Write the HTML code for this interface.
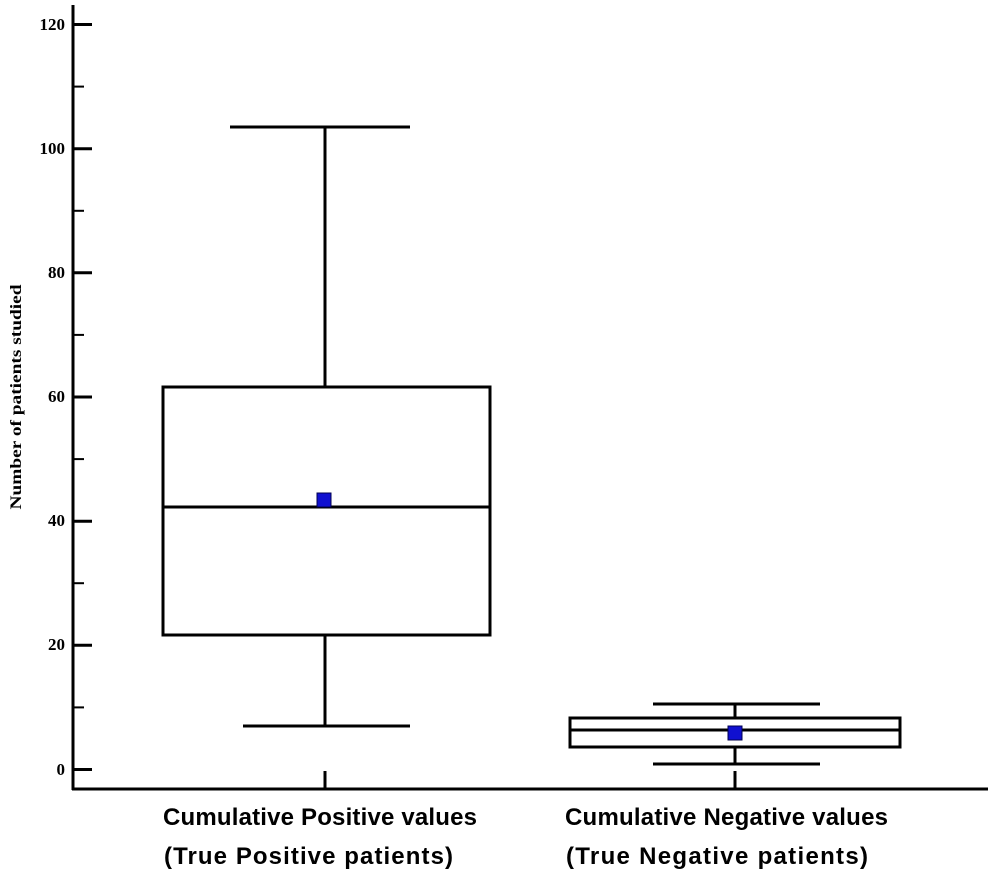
<!DOCTYPE html>
<html><head><style>body{margin:0;background:#fff}</style></head><body>
<svg width="992" height="872" xmlns="http://www.w3.org/2000/svg">
<g stroke="#000" fill="none" stroke-width="3">
<line x1="73" y1="5" x2="73" y2="790"/>
<line x1="72" y1="789" x2="988" y2="789"/>
<g stroke-width="3">
<line x1="73" y1="24.5" x2="92" y2="24.5"/>
<line x1="73" y1="148.7" x2="92" y2="148.7"/>
<line x1="73" y1="272.8" x2="92" y2="272.8"/>
<line x1="73" y1="397" x2="92" y2="397"/>
<line x1="73" y1="521.2" x2="92" y2="521.2"/>
<line x1="73" y1="645.3" x2="92" y2="645.3"/>
<line x1="73" y1="769.5" x2="92" y2="769.5"/>
</g>
<g stroke-width="2">
<line x1="73" y1="86.6" x2="84" y2="86.6"/>
<line x1="73" y1="210.8" x2="84" y2="210.8"/>
<line x1="73" y1="334.9" x2="84" y2="334.9"/>
<line x1="73" y1="459.1" x2="84" y2="459.1"/>
<line x1="73" y1="583.2" x2="84" y2="583.2"/>
<line x1="73" y1="707.4" x2="84" y2="707.4"/>
</g>
<line x1="325" y1="771" x2="325" y2="789"/>
<line x1="735" y1="771" x2="735" y2="789"/>
<rect x="163" y="387" width="327" height="248"/>
<line x1="163" y1="507" x2="490" y2="507"/>
<line x1="325" y1="127" x2="325" y2="387"/>
<line x1="230" y1="127" x2="410" y2="127"/>
<line x1="325" y1="635" x2="325" y2="726"/>
<line x1="243" y1="726" x2="410" y2="726"/>
<rect x="570" y="718" width="330" height="29"/>
<line x1="570" y1="730" x2="900" y2="730"/>
<line x1="735" y1="704" x2="735" y2="718"/>
<line x1="653" y1="704" x2="820" y2="704"/>
<line x1="735" y1="747" x2="735" y2="764"/>
<line x1="653" y1="764" x2="820" y2="764"/>
</g>
<rect x="317" y="493" width="14" height="14" fill="#1010d0" stroke="#000050" stroke-width="1"/>
<rect x="728" y="726" width="14" height="14" fill="#1010d0" stroke="#000050" stroke-width="1"/>
<g font-family="Liberation Serif, serif" font-weight="bold" font-size="17" text-anchor="end">
<text x="65" y="30">120</text>
<text x="65" y="154">100</text>
<text x="65" y="278">80</text>
<text x="65" y="402">60</text>
<text x="65" y="526">40</text>
<text x="65" y="650">20</text>
<text x="65" y="775">0</text>
</g>
<text transform="translate(21,397) rotate(-90)" font-family="Liberation Serif, serif" font-weight="bold" font-size="16" text-anchor="middle" textLength="225" lengthAdjust="spacingAndGlyphs">Number of patients studied</text>
<g font-family="Liberation Sans, sans-serif" font-weight="bold" font-size="24" lengthAdjust="spacingAndGlyphs">
<text x="163" y="825" textLength="314">Cumulative Positive values</text>
<text x="164" y="864" textLength="289">(True Positive patients)</text>
<text x="565" y="825" textLength="323">Cumulative Negative values</text>
<text x="566" y="864" textLength="302">(True Negative patients)</text>
</g>
</svg>
</body></html>
